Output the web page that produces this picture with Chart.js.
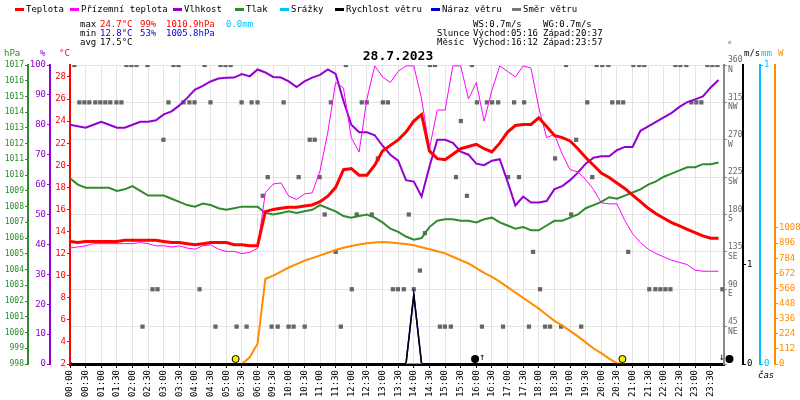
<!DOCTYPE html>
<html>
<head>
<meta charset="utf-8">
<script src="https://cdn.jsdelivr.net/npm/chart.js@4"></script>
<style>
  body { margin: 0; background: #fff; }
  canvas { display: block; }
</style>
</head>
<body>
<canvas id="meteo" width="800" height="400"></canvas>
<script>
// Popisky osy X (časy vzorků)
const times = ['00:00','00:30','01:00','01:30','02:00','02:30','03:00','03:30','04:00','04:30',
  '05:00','05:30','06:00','09:30','10:00','10:30','11:00','11:30','12:00','12:30','13:00',
  '13:30','14:00','14:30','15:00','15:30','16:00','16:30','17:00','17:30','18:00','18:30',
  '19:00','19:30','20:00','20:30','21:00','21:30','22:00','22:30','23:00','23:30'];

// Hodnoty po půl dílku osy X (84 vzorků)
const teplota = [13.1,13.0,13.1,13.1,13.1,13.1,13.1,13.2,13.2,13.2,13.2,13.2,13.1,13.0,13.0,12.9,12.8,12.9,13.0,13.0,13.0,12.8,12.8,12.7,12.7,
  15.8,16.0,16.1,16.2,16.2,16.3,16.4,16.7,17.2,18.0,19.6,19.7,19.1,19.1,20.0,21.3,21.8,22.3,23.0,24.0,24.6,
  21.3,20.6,20.5,21.0,21.5,21.7,21.9,21.5,21.2,22.0,23.0,23.6,23.7,23.7,24.3,23.5,22.7,22.5,22.2,21.5,20.7,20.0,19.3,18.9,18.4,17.9,17.3,16.7,16.1,15.6,15.2,14.8,14.5,14.2,13.9,13.6,13.4,13.4];
const prizemni = [12.5,12.6,12.7,12.9,12.9,12.9,12.9,12.9,12.9,13.0,12.9,12.7,12.7,12.6,12.7,12.5,12.4,12.7,12.8,12.4,12.2,12.2,12.0,12.1,12.5,
  17.5,18.3,18.4,17.2,16.9,17.4,17.5,19.5,23.0,27.5,27.0,22.5,21.2,26.0,29.0,28.0,27.5,28.5,29.0,29.0,26.0,21.5,25.0,25.0,29.0,29.0,26.0,27.5,24.0,26.8,
  29.0,28.5,28.0,29.0,28.8,25.2,22.5,22.8,21.0,19.6,19.4,18.7,17.8,16.6,16.5,16.5,15.0,13.8,13.0,12.4,12.0,11.7,11.4,11.2,11.0,10.5,10.4,10.4,10.4];
const vlhkost = [80,79.5,79,80,81,80,79,79,80,81,81,
  81.5,83.5,84.5,86.5,89,91.8,93,94.5,95.5,95.7,95.8,97,96.2,98.5,97.5,96,95.8,94.5,92.6,94.5,
  95.8,96.7,98.5,97,88,80,77.5,77.5,76.5,73,70,68,61.5,61,56,66,75,75,74,71,
  70,67,66.5,68,68.5,61,53,56,54,54,54.5,58.5,59.5,61.5,64,67,69,69.5,69.5,71.5,
  72.6,72.6,78,79.5,81,82.5,84,86,87.6,88.5,89.5,92.5,95];
const tlak = [1009.8,1009.4,1009.2,1009.2,1009.2,1009.2,1009.0,1009.1,1009.3,1009.0,
  1008.7,1008.7,1008.7,1008.5,1008.3,1008.1,1008.0,1008.2,1008.1,1007.9,
  1007.8,1007.9,1008.0,1008.0,1008.0,1007.6,1007.5,1007.6,1007.7,1007.6,
  1007.7,1007.8,1008.1,1007.9,1007.7,1007.4,1007.3,1007.4,1007.5,1007.3,
  1007.0,1006.6,1006.4,1006.1,1005.9,1006.0,1006.7,1007.1,1007.2,1007.2,
  1007.1,1007.1,1007.0,1007.2,1007.3,1007.0,1006.8,1006.6,1006.7,1006.5,
  1006.5,1006.8,1007.1,1007.1,1007.3,1007.5,1007.9,1008.1,1008.3,1008.6,
  1008.5,1008.7,1008.9,1009.1,1009.4,1009.6,1009.9,1010.1,1010.3,1010.5,
  1010.5,1010.7,1010.7,1010.8];
const slunecniZareni = [null,null,null,null,null,null,null,null,null,null,null,null,null,null,null,null,null,null,null,null,null,null,0,50,150,
  630,655,685,715,740,765,785,805,825,845,862,875,885,895,900,905,900,895,890,880,
  865,850,835,820,795,770,745,710,675,645,610,570,530,490,450,410,365,320,285,245,
  205,160,115,80,40,5,0,null,null,null,null,null,null,null,null,null,null,null,null];
const rychlostVetru = [0,0,0,0,0,0,0,0,0,0,0,0,0,0,0,0,0,0,0,0,0,0,0,0,0,0,0,0,0,0,0,0,0,0,0,0,0,0,0,0,0,0,0,0,
  0.7,0,0,0,0,0,0,0,0,0,0,0,0,0,0,0,0,0,0,0,0,0,0,0,0,0,0,0,0,0,0,0,0,0,0,0,0,0,0,0];
const narazVetru = rychlostVetru.slice();
const srazky = rychlostVetru.map((v, i) => (i >= 43 && i <= 45) ? 0 : null);

// Směr větru: čas (v dílcích osy X) a úhel
const smerCas = [0.28,3.61,3.93,4.25,4.96,6.62,6.94,8.61,9.63,9.95,10.28,17.65,23.03,23.35,25.72,31.74,33.7,34.06,34.45,36.05,36.43,36.75,38.74,39.06,39.44,40.79,41.11,41.43,
  0.6,0.92,1.24,1.62,1.94,2.26,2.58,2.97,3.29,6.3,7.26,7.64,7.97,8.99,10.98,11.62,12.0,13.67,16.69,18.67,18.99,20.02,20.34,26.04,26.68,27.01,27.4,28.42,29.06,33.1,34.7,35.08,35.4,39.76,40.08,40.4,
  25.01, 5.98,15.34,15.66,32.39, 19.7,31.04,
  12.65,14.63,15.97,24.7,28.03,28.73,33.42, 12.33,25.4,
  16.3,18.35,19.31,21.68,32.07, 22.71, 17.0,29.63,35.72, 22.39,
  5.28,5.6,8.29,18.03,20.66,20.98,21.36,22.0,30.08,37.07,37.46,37.78,38.1,38.42,41.75,
  4.64,9.31,10.66,11.3,12.9,13.29,13.99,14.31,15.02,17.33,23.67,23.99,24.37,26.36,27.71,29.37,30.4,30.72,31.43,32.71,
  0.0];
const smerUhel = [].concat(
  Array(28).fill(360), Array(36).fill(315), [292.5], Array(4).fill(270), Array(2).fill(247.5),
  Array(7).fill(225), Array(2).fill(202.5), Array(5).fill(180), [157.5], Array(3).fill(135), [112.5],
  Array(15).fill(90), Array(20).fill(45), [0]);

// Východ/západ Slunce a Měsíce (v dílcích osy X)
const slunceUdalosti = [10.6, 35.35];
const mesicUdalosti = [25.92, 42.2];

const smerPopisky = { 45: 'NE', 90: 'E', 135: 'SE', 180: 'S', 225: 'SW', 270: 'W', 315: 'NW', 360: 'N' };
const FONT = '"DejaVu Sans Mono", monospace';

function serie(values) {
  return values.map((v, i) => ({ x: i / 2, y: v }));
}

// Texty v hlavičce, legenda, nadpisy os a značky Slunce/Měsíce
const hlavicka = {
  id: 'hlavicka',
  afterDraw(chart) {
    const ctx = chart.ctx;
    ctx.save();
    ctx.textBaseline = 'middle';
    ctx.font = '9px ' + FONT;
    // legenda
    const legX = [15, 70, 173, 235, 280, 335, 431, 512];
    chart.data.datasets.filter(d => d.legenda).forEach((d, i) => {
      ctx.fillStyle = d.legenda;
      ctx.fillRect(legX[i], 8, 9, 3);
      ctx.fillStyle = '#000';
      ctx.fillText(d.label, legX[i] + 11, 10);
    });
    // statistiky
    const txt = (t, x, y, c) => { ctx.fillStyle = c; ctx.fillText(t, x, y); };
    txt('max', 80, 25, '#000'); txt('24.7°C', 100, 25, '#f00'); txt('99%', 140, 25, '#f00');
    txt('1010.9hPa', 166, 25, '#f00'); txt('0.0mm', 226, 25, '#00bfff');
    txt('min', 80, 34, '#000'); txt('12.8°C', 100, 34, '#0000e0'); txt('53%', 140, 34, '#0000e0');
    txt('1005.8hPa', 166, 34, '#0000e0');
    txt('avg', 80, 43, '#000'); txt('17.5°C', 100, 43, '#000');
    txt('WS:0.7m/s', 473, 25, '#000'); txt('WG:0.7m/s', 543, 25, '#000');
    txt('Slunce', 437, 34, '#000'); txt('Východ:05:16', 473, 34, '#000'); txt('Západ:20:37', 543, 34, '#000');
    txt('Měsíc', 437, 43, '#000'); txt('Východ:16:12', 473, 43, '#000'); txt('Západ:23:57', 543, 43, '#000');
    // nadpisy os
    txt('hPa', 4, 54, '#2e8b2e'); txt('%', 40, 54, '#9400d3'); txt('°C', 59, 54, '#f00');
    txt('°', 727, 46, '#666'); txt('m/s', 744, 54, '#000'); txt('mm', 761, 54, '#00bfff'); txt('W', 778, 54, '#ff8c00');
    ctx.font = 'italic 9px ' + FONT;
    txt('čas', 758, 376, '#000');
    // datum
    ctx.font = 'bold 13px ' + FONT;
    ctx.textAlign = 'center';
    txt('28.7.2023', 398, 57, '#000');
    // Slunce a Měsíc
    const xs = chart.scales.x;
    const yb = chart.chartArea.bottom - 5;
    slunceUdalosti.forEach(t => {
      ctx.beginPath(); ctx.arc(xs.getPixelForValue(t), yb, 3.5, 0, Math.PI * 2);
      ctx.fillStyle = '#ffee00'; ctx.fill(); ctx.strokeStyle = '#000'; ctx.lineWidth = 1; ctx.stroke();
    });
    mesicUdalosti.forEach((t, i) => {
      const px = xs.getPixelForValue(t);
      ctx.beginPath(); ctx.arc(px, yb, 4, 0, Math.PI * 2);
      ctx.fillStyle = '#000'; ctx.fill();
      ctx.font = '10px ' + FONT;
      ctx.fillText(i === 0 ? '↑' : '↓', px + (i === 0 ? 7 : -8), yb - 2);
    });
    ctx.restore();
  }
};

function osa(pos, min, max, color, width, extra) {
  return Object.assign({
    type: 'linear', position: pos, min: min, max: max,
    border: { color: color, width: 2 },
    grid: { drawOnChartArea: false, color: color, tickLength: 3 },
    ticks: { color: color, font: { family: FONT, size: 9 }, padding: 1, includeBounds: false, callback: v => String(v) },
    afterFit: s => { s.width = width; }
  }, extra || {});
}
function tickOpt(color, step) {
  return { color: color, font: { family: FONT, size: 9 }, padding: 1, includeBounds: false, stepSize: step, callback: v => String(v) };
}
function pevneTicky(list) {
  return s => { s.ticks = list.map(v => ({ value: v })); };
}

new Chart(document.getElementById('meteo'), {
  type: 'line',
  data: {
    datasets: [
      { label: 'Teplota', legenda: '#ff0000', data: serie(teplota), yAxisID: 'yT', borderColor: '#ff0000', borderWidth: 3, order: 1 },
      { label: 'Přízemní teplota', legenda: '#ff00ff', data: serie(prizemni), yAxisID: 'yT', borderColor: '#ff00ff', borderWidth: 1, order: 2 },
      { label: 'Vlhkost', legenda: '#9400d3', data: serie(vlhkost), yAxisID: 'yH', borderColor: '#9400d3', borderWidth: 2, order: 3 },
      { label: 'Tlak', legenda: '#2e8b2e', data: serie(tlak), yAxisID: 'yP', borderColor: '#2e8b2e', borderWidth: 2, order: 4 },
      { label: 'Srážky', legenda: '#00bfff', data: serie(srazky), yAxisID: 'yR', borderColor: '#00bfff', borderWidth: 2, order: 0 },
      { label: 'Rychlost větru', legenda: '#000000', data: serie(rychlostVetru), yAxisID: 'yW', borderColor: '#000', borderWidth: 1.5, order: 0.5 },
      { label: 'Náraz větru', legenda: '#0000cc', data: serie(narazVetru), yAxisID: 'yW', borderColor: '#0000cc', borderWidth: 1.5, order: 6 },
      { label: 'Směr větru', legenda: '#777777', type: 'scatter', data: smerCas.map((t, i) => ({ x: t, y: smerUhel[i] })),
        yAxisID: 'yD', pointStyle: 'rect', pointRadius: 3, backgroundColor: '#666', borderWidth: 0, order: 8 },
      { label: 'Sluneční záření', data: serie(slunecniZareni), yAxisID: 'yS', borderColor: '#ff8c00', borderWidth: 2, order: 5 }
    ]
  },
  options: {
    responsive: false,
    animation: false,
    devicePixelRatio: 1,
    layout: { padding: { top: 65, bottom: 0, left: 0, right: 0 } },
    elements: { point: { radius: 0 }, line: { tension: 0 } },
    plugins: { legend: { display: false }, tooltip: { enabled: false } },
    scales: {
      x: {
        type: 'linear', min: 0, max: 41.85,
        border: { color: '#000', width: 3 },
        grid: { color: '#e4e4e4', tickColor: '#000', tickLength: 4 },
        ticks: { stepSize: 1, includeBounds: false, autoSkip: false, maxRotation: 90, minRotation: 90,
          color: '#000', font: { family: FONT, size: 9 }, padding: 2,
          callback: v => times[v] || '' },
        afterFit: s => { s.height = 36; }
      },
      yT: osa('left', 2, 29.08, '#ff0000', 20, { ticks: tickOpt('#f00', 2) }),
      yH: osa('left', 0, 100, '#9400d3', 22, { ticks: tickOpt('#9400d3', 10) }),
      yP: osa('left', 998, 1017, '#2e8b2e', 28, { ticks: Object.assign(tickOpt('#2e8b2e', 1), { font: { family: FONT, size: 8 } }) }),
      yD: osa('right', 0, 360, '#888', 19, {
        grid: { drawOnChartArea: true, color: '#e4e4e4', tickColor: '#888', tickLength: 3 },
        ticks: { color: '#666', font: { family: FONT, size: 8 }, padding: 1, includeBounds: false, stepSize: 45,
          callback: v => v === 0 ? '' : [String(v), smerPopisky[v]] }
      }),
      yW: osa('right', 0, 3.02, '#000', 17, { afterBuildTicks: pevneTicky([0, 1]) }),
      yR: osa('right', 0, 1, '#00bfff', 15, { afterBuildTicks: pevneTicky([0, 1]) }),
      yS: osa('right', 0, 2216, '#ff8c00', 25, { afterBuildTicks: pevneTicky([0,112,224,336,448,560,672,784,896,1008]) })
    }
  },
  plugins: [hlavicka]
});
</script>
</body>
</html>
